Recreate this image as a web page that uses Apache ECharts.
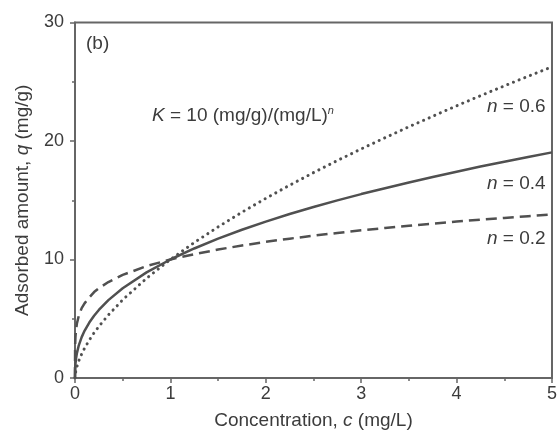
<!DOCTYPE html>
<html>
<head>
<meta charset="utf-8">
<script src="https://cdn.jsdelivr.net/npm/echarts@6/dist/echarts.min.js"></script>
<style>html,body{margin:0;padding:0;background:#fff;}#c{width:560px;height:437px;}</style>
</head>
<body>
<div id="c"></div>
<script>
// Values
var conc = [0, 0.001, 0.002, 0.005, 0.01, 0.02, 0.04, 0.07, 0.1, 0.15, 0.2, 0.25, 0.35, 0.5, 0.75, 1, 1.25, 1.5, 1.75, 2, 2.25, 2.5, 2.75, 3, 3.25, 3.5, 3.75, 4, 4.25, 4.5, 4.75, 5];
var qN02 = [0, 2.5, 2.9, 3.5, 4.0, 4.6, 5.25, 5.9, 6.3, 6.8, 7.25, 7.58, 8.1, 8.7, 9.44, 10, 10.45, 10.84, 11.18, 11.49, 11.76, 12.01, 12.24, 12.46, 12.66, 12.85, 13.03, 13.2, 13.36, 13.51, 13.66, 13.8];
var qN04 = [0, 0.6, 0.83, 1.2, 1.6, 2.1, 2.76, 3.45, 3.98, 4.68, 5.25, 5.74, 6.57, 7.58, 8.91, 10, 10.93, 11.76, 12.51, 13.2, 13.84, 14.43, 14.99, 15.52, 16.02, 16.5, 16.96, 17.41, 17.84, 18.25, 18.65, 19.04];
var qN06 = [0, 0.16, 0.24, 0.42, 0.63, 0.96, 1.45, 2.03, 2.51, 3.2, 3.81, 4.35, 5.32, 6.6, 8.41, 10, 11.43, 12.75, 13.99, 15.16, 16.27, 17.33, 18.35, 19.33, 20.28, 21.2, 22.09, 22.97, 23.82, 24.65, 25.46, 26.26];
var xTicks = [0, 1, 2, 3, 4, 5];
var yTicks = [0, 10, 20, 30];

function pairs(ys){ return conc.map(function(c,i){ return [c, ys[i]]; }); }

var txt = '#3c3c3c';
var lineC = '#505050';
var axC = '#666666';
var font = 'Liberation Sans, Arial, sans-serif';
var FS = 19;
var TS = 18;
var italic = { fontStyle: 'italic', fontSize: FS, fontFamily: font, color: txt, fill: txt };

var chart = echarts.init(document.getElementById('c'), null, {renderer:'canvas'});
chart.setOption({
  animation: false,
  backgroundColor: '#fff',
  grid: { left: 75, right: 4, top: 22.5, bottom: 59, show: true, borderColor: axC, borderWidth: 2, backgroundColor: 'transparent' },
  xAxis: {
    type: 'value', min: 0, max: 5, interval: 1,
    name: 'Concentration, {i|c} (mg/L)', nameLocation: 'middle', nameGap: 33,
    nameTextStyle: { color: txt, fontSize: FS, fontFamily: font, rich: { i: italic } },
    axisLine: { show: true, lineStyle: { color: axC, width: 2 } },
    axisTick: { show: true, inside: false, length: 5, lineStyle: { color: axC, width: 1.5 } },
    minorTick: { show: true, splitNumber: 2, length: 3, lineStyle: { color: axC, width: 1.5 } },
    axisLabel: { color: txt, fontSize: TS, fontFamily: font, margin: 7,
      formatter: function(v){ return xTicks.indexOf(v) >= 0 ? String(v) : ''; } },
    splitLine: { show: false }
  },
  yAxis: {
    type: 'value', min: 0, max: 30, interval: 10,
    name: 'Adsorbed amount, {i|q} (mg/g)', nameLocation: 'middle', nameGap: 43,
    nameTextStyle: { color: txt, fontSize: FS, fontFamily: font, rich: { i: italic } },
    axisLine: { show: true, lineStyle: { color: axC, width: 2 } },
    axisTick: { show: true, inside: false, length: 5, lineStyle: { color: axC, width: 1.5 } },
    minorTick: { show: true, splitNumber: 2, length: 3, lineStyle: { color: axC, width: 1.5 } },
    axisLabel: { color: txt, fontSize: TS, fontFamily: font, margin: 11,
      formatter: function(v){ return yTicks.indexOf(v) >= 0 ? String(v) : ''; } },
    splitLine: { show: false }
  },
  series: [
    { name: 'n = 0.2', type: 'line', data: pairs(qN02), showSymbol: false, smooth: false,
      lineStyle: { color: lineC, width: 2.5, type: [11, 6] }, z: 3 },
    { name: 'n = 0.4', type: 'line', data: pairs(qN04), showSymbol: false, smooth: false,
      lineStyle: { color: lineC, width: 2.5, type: 'solid' }, z: 3 },
    { name: 'n = 0.6', type: 'line', data: pairs(qN06), showSymbol: false, smooth: false,
      lineStyle: { color: lineC, width: 3, type: [0.1, 6], cap: 'round' }, z: 3 }
  ],
  graphic: [
    { type: 'text', left: 86, top: 34, style: { text: '(b)', fill: txt, font: FS + 'px ' + font } },
    { type: 'text', left: 152, top: 105, style: {
        text: '{i|K} = 10 (mg/g)/(mg/L){s|n}', fill: txt, font: FS + 'px ' + font,
        rich: { i: italic, s: { fontStyle: 'italic', fontSize: 11, fontFamily: font, fill: txt, verticalAlign: 'top', lineHeight: 21 } } } },
    { type: 'text', left: 487, top: 97, style: {
        text: '{i|n} = 0.6', fill: txt, font: FS + 'px ' + font, rich: { i: italic } } },
    { type: 'text', left: 487, top: 174, style: {
        text: '{i|n} = 0.4', fill: txt, font: FS + 'px ' + font, rich: { i: italic } } },
    { type: 'text', left: 487, top: 229, style: {
        text: '{i|n} = 0.2', fill: txt, font: FS + 'px ' + font, rich: { i: italic } } }
  ]
});
</script>
</body>
</html>
